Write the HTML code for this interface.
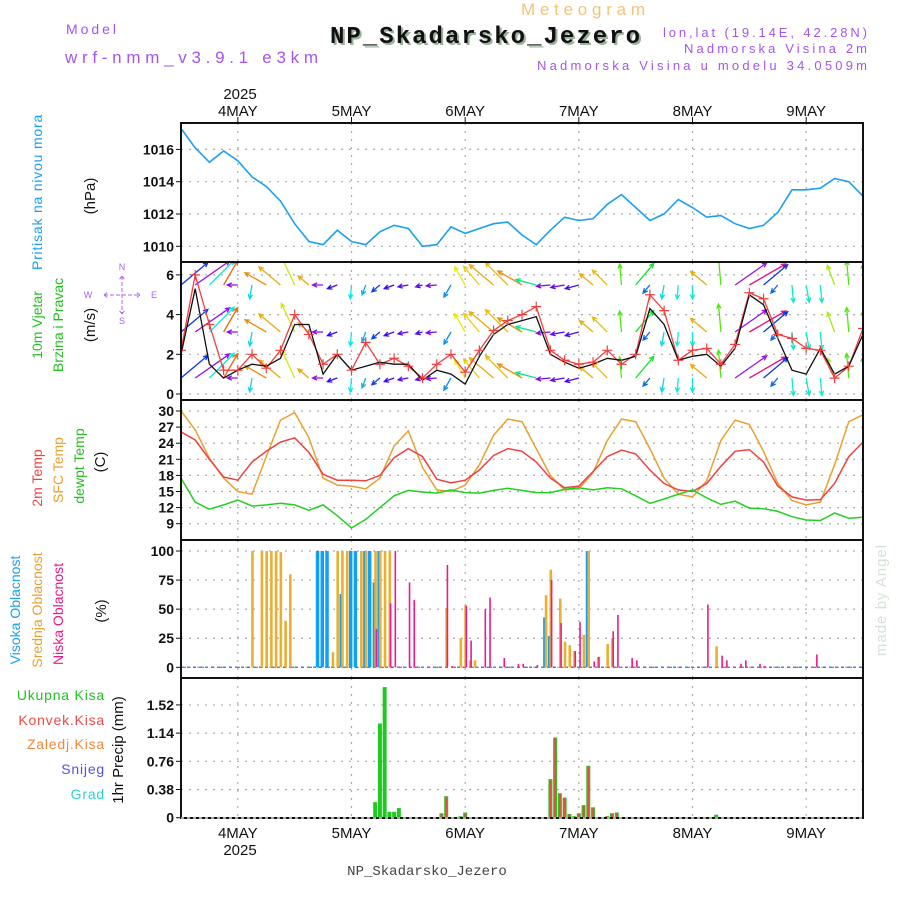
<!DOCTYPE html>
<html><head><meta charset="utf-8">
<style>
html,body{margin:0;padding:0;background:#fff;}
svg{display:block;font-family:"Liberation Sans",sans-serif;}
</style></head>
<body>
<svg id="chart" width="900" height="900" viewBox="0 0 900 900" xmlns="http://www.w3.org/2000/svg">
<rect x="0" y="0" width="900" height="900" fill="#fff"/>
<text x="521" y="15" font-size="17" fill="#f2c47a" textLength="124">Meteogram</text>
<text x="66" y="34" font-size="14" fill="#a455ee" textLength="50">Model</text>
<text x="65" y="63" font-size="17" fill="#a455ee" textLength="253">wrf-nmm_v3.9.1 e3km</text>
<text x="332" y="45" font-size="24" font-weight="bold" font-family="Liberation Mono, monospace" fill="#9bb39b" textLength="310">NP_Skadarsko_Jezero</text>
<text x="330" y="43" font-size="24" font-weight="bold" font-family="Liberation Mono, monospace" fill="#111" textLength="310">NP_Skadarsko_Jezero</text>
<text x="663" y="37" font-size="13" fill="#a455ee" textLength="204">lon,lat (19.14E, 42.28N)</text>
<text x="684" y="53" font-size="13" fill="#a455ee" textLength="183">Nadmorska Visina 2m</text>
<text x="537" y="70" font-size="13" fill="#a455ee" textLength="330">Nadmorska Visina u modelu 34.0509m</text>
<text x="240" y="99" font-size="15" fill="#111" text-anchor="middle">2025</text>

<text transform="translate(42,192) rotate(-90)" font-size="14" fill="#1aa0f0" text-anchor="middle" letter-spacing="0.8">Pritisak na nivou mora</text>
<text transform="translate(95,196) rotate(-90)" font-size="15" fill="#111" text-anchor="middle">(hPa)</text>
<text transform="translate(42,325) rotate(-90)" font-size="14" fill="#22c022" text-anchor="middle">10m Vjetar</text>
<text transform="translate(63,325) rotate(-90)" font-size="14" fill="#22c022" text-anchor="middle">Brzina i Pravac</text>
<text transform="translate(95,325) rotate(-90)" font-size="15" fill="#111" text-anchor="middle">(m/s)</text>
<g fill="#b060f0" stroke="none" font-size="9" text-anchor="middle">
<text x="88" y="298">W</text><text x="154" y="298">E</text>
<text x="122" y="270">N</text><text x="122" y="324">S</text>
<path d="M104,295h36M122,276v38M104,295l4,-3M104,295l4,3M140,295l-4,-3M140,295l-4,3M122,276l-3,4M122,276l3,4M122,314l-3,-4M122,314l3,-4" stroke="#b060f0" stroke-width="1" stroke-dasharray="4 2" fill="none"/>
</g>
<text transform="translate(42,478) rotate(-90)" font-size="14" fill="#f04040" text-anchor="middle">2m Temp</text>
<text transform="translate(63,470) rotate(-90)" font-size="14" fill="#eaa030" text-anchor="middle">SFC Temp</text>
<text transform="translate(84,466) rotate(-90)" font-size="14" fill="#22c022" text-anchor="middle">dewpt Temp</text>
<text transform="translate(105,462) rotate(-90)" font-size="15" fill="#111" text-anchor="middle">(C)</text>
<text transform="translate(20,610) rotate(-90)" font-size="14" fill="#1aa0f0" text-anchor="middle">Visoka Oblacnost</text>
<text transform="translate(42,610) rotate(-90)" font-size="14" fill="#eaa030" text-anchor="middle">Srednja Oblacnost</text>
<text transform="translate(63,614) rotate(-90)" font-size="14" fill="#f0188a" text-anchor="middle">Niska Oblacnost</text>
<text transform="translate(106,611) rotate(-90)" font-size="15" fill="#111" text-anchor="middle">(%)</text>
<g font-size="14" text-anchor="end" letter-spacing="0.8">
<text x="105" y="700" fill="#22c022">Ukupna  Kisa</text>
<text x="105" y="725" fill="#f04848">Konvek.Kisa</text>
<text x="105" y="749" fill="#f08838">Zaledj.Kisa</text>
<text x="105" y="774" fill="#5050f0">Snijeg</text>
<text x="105" y="799" fill="#30d0d0">Grad</text>
</g>
<text transform="translate(123,750) rotate(-90)" font-size="15" fill="#111" text-anchor="middle">1hr Precip (mm)</text>
<text transform="translate(886,600) rotate(-90)" font-size="15" fill="#d6e2d6" text-anchor="middle" letter-spacing="1">made by Angel</text>
<text x="240" y="855" font-size="15" fill="#111" text-anchor="middle">2025</text>
<text x="427" y="875" font-size="14" font-family="Liberation Mono, monospace" fill="#444" text-anchor="middle">NP_Skadarsko_Jezero</text>
<g id="plots"></g>
</svg>
<script>
// ---- data (hours since 3 MAY 12:00, 3-hourly grid) ----
const dayLabels = ["4MAY","5MAY","6MAY","7MAY","8MAY","9MAY"];
const dayHours = [12,36,60,84,108,132];
const pressure = [1017.3,1016.1,1015.2,1015.9,1015.3,1014.3,1013.7,1012.8,1011.4,1010.3,1010.1,1011.0,1010.3,1010.1,1010.9,1011.3,1011.1,1010.0,1010.1,1011.2,1010.8,1011.1,1011.4,1011.5,1010.7,1010.1,1011.0,1011.8,1011.6,1011.7,1012.6,1013.2,1012.4,1011.6,1012.0,1012.9,1012.4,1011.8,1011.9,1011.4,1011.1,1011.3,1012.1,1013.5,1013.5,1013.6,1014.2,1014.0,1013.1];
const windGust = [2.2,6.0,3.5,1.2,1.2,2.0,1.3,2.2,4.0,3.0,1.5,2.0,1.2,2.6,1.5,1.8,1.4,0.8,1.5,2.0,1.1,2.2,3.2,3.7,4.0,4.4,2.2,1.7,1.5,1.6,2.2,1.5,2.0,5.0,4.2,1.7,2.2,2.3,1.5,2.5,5.1,4.8,3.0,2.8,2.3,2.2,0.8,1.4,3.3];
const windSpeed = [2.0,5.3,1.5,0.8,1.2,1.5,1.4,1.8,3.5,3.5,1.0,2.0,1.2,1.4,1.6,1.5,1.5,0.7,1.2,1.0,0.5,1.9,3.0,3.5,3.7,3.9,2.0,1.6,1.3,1.5,1.8,1.7,1.9,4.3,3.5,1.7,1.9,2.0,1.4,2.3,5.0,4.5,2.8,1.2,1.0,2.3,1.0,1.4,3.0];
const windAngle = [40,35,45,60,180,260,150,140,115,140,180,200,265,250,220,200,190,195,185,240,120,130,140,135,150,165,185,190,195,140,135,95,50,230,260,265,270,140,95,35,30,40,230,275,280,275,110,95,90];
const windArrowSpd = [5,6,5,4,1.5,2,3.5,4,4.5,2,1.5,1.5,2,1.5,1.5,1.5,1.5,1,1.5,2,3,3.5,4.5,4.5,4,3,2,2,2,2.5,3,3,4,1.5,2,2,2,3,4,5.5,6,4.5,1.5,2.5,2.5,2.5,3,3.5,3];
const temp2m = [26.1,24.6,21,17.7,17.1,20.5,22.5,24.2,25,22.3,18.2,17.1,17.1,17.0,18.0,21.3,23,21.5,17.3,16.6,17.1,19,21.7,23,22.5,20.5,17.5,15.7,16,18.7,21.5,22.7,22,19,16.5,15.3,15,16.5,19.7,22.5,22.8,20.5,16,14,13.4,13.5,16.5,21.5,24.2];
const tempSfc = [30,26.5,21.2,17.5,15,14.5,21.5,28.3,29.7,25,17.5,16.2,16,15.5,17.5,23.5,26.3,19.5,15.3,15,16.2,20,25.5,28.5,28,23,18,15.3,15.5,18.5,24.5,28.5,28,23,17.5,14.5,14,17,24.5,28.3,27.5,22.5,16.5,13.3,12.5,13,20,28,29.3];
const dewpt = [17.5,13,11.7,12.5,13.4,12.3,12.5,12.8,12.5,11.5,12.5,10.5,8.2,9.8,12,14.2,15.2,14.9,14.7,15.3,14.8,14.7,15.2,15.6,15.2,14.8,14.8,15.4,15.7,15.3,15.7,15.5,14.2,12.8,13.6,14.5,15.3,13.8,12.6,13.2,11.9,11.8,11.3,10.3,9.7,9.6,11,10,10.2];
const cloudHours = [15,17,18,19,20,21,22,23,29,30,31,32,33,34,35,36,37,38,39,40,41,42,43,44,45,48,49,56,57,59,60,61,62,64,65,68,71,72,75,77,78,80,81,82,83,84,85,86,87,88,90,91,92,95,96,111,113,114,115,118,119,122,123,134];
const cloudHigh = [0,0,0,0,0,0,0,0,100,100,100,0,0,63,0,100,100,0,100,100,73,100,0,0,0,0,0,0,0,0,0,0,0,0,0,0,0,0,0,43,27,0,0,0,0,0,0,100,0,0,0,0,0,0,0,0,0,0,0,0,0,0,0,0];
const cloudMid = [100,100,100,100,100,99,40,80,0,0,0,13,100,100,100,0,0,100,100,0,100,100,100,100,0,0,0,51,0,25,53,6,6,0,0,0,0,0,0,62,84,59,22,19,14,0,28,100,0,9,20,25,0,0,0,0,18,0,0,0,0,0,0,0];
const cloudLow = [0,0,0,0,0,0,0,0,0,0,0,0,0,0,0,0,0,0,0,0,33,0,0,55,100,73,58,88,1,0,53,23,0,50,60,8,3,3,2,0,75,38,0,0,14,39,0,0,5,9,0,31,45,8,6,54,0,10,6,3,6,3,1,11];
const precipHours = [41,42,43,44,45,46,55,56,59,60,78,79,80,81,82,83,84,85,86,87,90,91,92,113];
const precipTotal = [0.21,1.27,1.76,0.08,0.08,0.13,0.06,0.29,0.02,0.07,0.52,1.08,0.33,0.27,0.05,0.02,0.06,0.17,0.70,0.14,0.02,0.06,0.07,0.04];
const precipConv = [0,0,0,0,0,0,0.05,0.28,0,0.05,0.50,1.08,0.32,0.27,0.05,0.01,0.05,0.16,0.69,0.13,0.02,0.05,0.06,0];
const pressTicks = [1010,1012,1014,1016];
const windTicks = [0,2,4,6];
const tempTicks = [9,12,15,18,21,24,27,30];
const cloudTicks = [0,25,50,75,100];
const precipTicks = [0,0.38,0.76,1.14,1.52];

const NS = "http://www.w3.org/2000/svg";
const X0 = 181, X1 = 863, H = 144;
const xh = h => X0 + h * (X1 - X0) / H;
const panels = {
  p: {top:123, bot:262, y: v => 246.3 - (v - 1010) * 16.15},
  w: {top:262, bot:400, y: v => 394 - v * 19.85},
  t: {top:400, bot:540, y: v => 411 + (30 - v) * 5.367},
  c: {top:540, bot:678, y: v => 667.3 - v * 1.163},
  r: {top:678, bot:818, y: v => 817.7 - v * 74.2}
};
const root = document.getElementById('plots');
function el(tag, attrs, parent) {
  const e = document.createElementNS(NS, tag);
  for (const k in attrs) e.setAttribute(k, attrs[k]);
  (parent || root).appendChild(e);
  return e;
}
const grid3 = i => i * 3;

const defs = el('defs', {});
for (const k in panels) {
  const cp = el('clipPath', {id: 'clip-' + k}, defs);
  el('rect', {x: X0, y: panels[k].top, width: X1 - X0, height: panels[k].bot - panels[k].top}, cp);
}

function axisPanel(key, ticks, fmt, name) {
  const P = panels[key];
  const g = el('g', {});
  
  
  ticks.forEach(t => {
    const y = P.y(t);
    const gl = el('line', {x1: X0, x2: X1, y1: y, y2: y, stroke: '#aaa', 'stroke-width': 1.2, 'stroke-dasharray': '2 6'}, g);
    
    
    el('line', {x1: X0 - 5, x2: X0, y1: y, y2: y, stroke: '#111', 'stroke-width': 1}, g);
    const tx = el('text', {x: X0 - 7, y: y + 5, 'font-size': 14, 'text-anchor': 'end', fill: '#111', 'font-weight': 'bold'}, g);
    tx.textContent = fmt(t);
    
    
  });
  dayHours.forEach(h => {
    el('line', {x1: xh(h), x2: xh(h), y1: P.top, y2: P.bot, stroke: '#aaa', 'stroke-width': 1.2, 'stroke-dasharray': '2 6'}, g);
  });
}
axisPanel('p', pressTicks, String, 'pressure');
axisPanel('w', windTicks, String, 'wind');
axisPanel('t', tempTicks, String, 'temperature');
axisPanel('c', cloudTicks, String, 'cloud');
axisPanel('r', precipTicks, v => v === 0 ? '0' : v.toFixed(2), 'precip');

dayHours.forEach((h, i) => {
  const x = xh(h);
  el('line', {x1: x, x2: x, y1: 117, y2: 123, stroke: '#111'});
  const t1 = el('text', {x: x, y: 116, 'font-size': 15, 'text-anchor': 'middle', fill: '#111'});
  t1.textContent = dayLabels[i];
  
  
  const t2 = el('text', {x: x, y: 838, 'font-size': 15, 'text-anchor': 'middle', fill: '#111'});
  t2.textContent = dayLabels[i];
  
  
});

function line(key, vals, color, name, width) {
  const P = panels[key];
  const pts = vals.map((v, i) => xh(grid3(i)).toFixed(1) + ',' + P.y(v).toFixed(1)).join(' ');
  const pl = el('polyline', {points: pts, fill: 'none', stroke: color, 'stroke-width': width || 1.5, 'clip-path': 'url(#clip-' + key + ')'});
  
  
  return pl;
}

line('p', pressure, '#1aa0f0', 'pressure-line', 1.6);

const hueTable = [[0,330],[30,330],[60,25],[90,110],[120,60],[150,35],[180,275],[225,220],[270,175],[315,160],[360,330]];
function hueFor(a) {
  a = ((a % 360) + 360) % 360;
  for (let i = 0; i < hueTable.length - 1; i++) {
    const [a0, h0] = hueTable[i], [a1, h1] = hueTable[i + 1];
    if (a >= a0 && a <= a1) return h0 + (h1 - h0) * (a - a0) / (a1 - a0);
  }
  return 0;
}
const arrowG = el('g', {'clip-path': 'url(#clip-w)'});


[285, 332, 378].forEach(by => {
  windAngle.forEach((a, i) => {
    const x = xh(grid3(i)), L = windArrowSpd[i] * 7;
    const r = a * Math.PI / 180;
    const ex = x + L * Math.cos(r), ey = by - L * Math.sin(r);
    const col = 'hsl(' + hueFor(a).toFixed(0) + ',90%,48%)';
    const h1 = r + Math.PI - 0.45, h2 = r + Math.PI + 0.45;
    const ar = el('path', {d: 'M' + x + ',' + by + 'L' + ex + ',' + ey + 'M' + (ex + 5 * Math.cos(h1)) + ',' + (ey - 5 * Math.sin(h1)) + 'L' + ex + ',' + ey + 'L' + (ex + 5 * Math.cos(h2)) + ',' + (ey - 5 * Math.sin(h2)), stroke: col, 'stroke-width': 1.3, fill: 'none'}, arrowG);
    
    
  });
});
line('w', windGust, '#f04040', 'wind-gust-line', 1.3);
line('w', windSpeed, '#111', 'wind-speed-line', 1.3);
windGust.forEach((v, i) => {
  const x = xh(grid3(i)), y = panels.w.y(v);
  const c = el('path', {d: 'M' + (x - 5) + ',' + y + 'h10M' + x + ',' + (y - 5) + 'v10', stroke: '#f04040', 'stroke-width': 1.2, 'clip-path': 'url(#clip-w)'});
  
  
});

line('t', tempSfc, '#eaa030', 'sfc-temp-line', 1.5);
line('t', temp2m, '#f04040', 'temp-2m-line', 1.5);
line('t', dewpt, '#22d022', 'dewpoint-line', 1.5);

el('line', {x1: X0, x2: X1, y1: panels.c.y(0), y2: panels.c.y(0), stroke: '#1aa0f0', 'stroke-width': 1.5, 'stroke-dasharray': '3 3'});
el('line', {x1: X0 + 3, x2: X1, y1: panels.c.y(0), y2: panels.c.y(0), stroke: '#f0188a', 'stroke-width': 1, 'stroke-dasharray': '2 7'});
function bars(key, hours, vals, color, w, off, name) {
  const P = panels[key];
  vals.forEach((v, i) => {
    if (v <= 0) return;
    const x = xh(hours[i]) + off;
    const r = el('rect', {x: x - w / 2, y: P.y(v), width: w, height: P.y(0) - P.y(v), fill: color});
    
    
  });
}
bars('c', cloudHours, cloudHigh, '#10a0f8', 3.5, -0.8, 'high-cloud-bar');
bars('c', cloudHours, cloudMid, '#eaae30', 2.6, 0.4, 'mid-cloud-bar');
bars('c', cloudHours, cloudLow, '#f0188a', 1.6, 1.2, 'low-cloud-bar');

bars('r', precipHours, precipTotal, '#22c822', 4, 0, 'total-precip-bar');
bars('r', precipHours, precipConv, '#f04848', 2, 0, 'convective-precip-bar');

for (const k in panels) {
  const P = panels[k];
  const b = el('rect', {x: X0, y: P.top, width: X1 - X0, height: P.bot - P.top, fill: 'none', stroke: '#111', 'stroke-width': 2});
  
  
}
el('line', {x1: X0, x2: X1, y1: 818, y2: 818, stroke: '#fff', 'stroke-width': 1.2, 'stroke-dasharray': '3 3'});
</script>
</body></html>
